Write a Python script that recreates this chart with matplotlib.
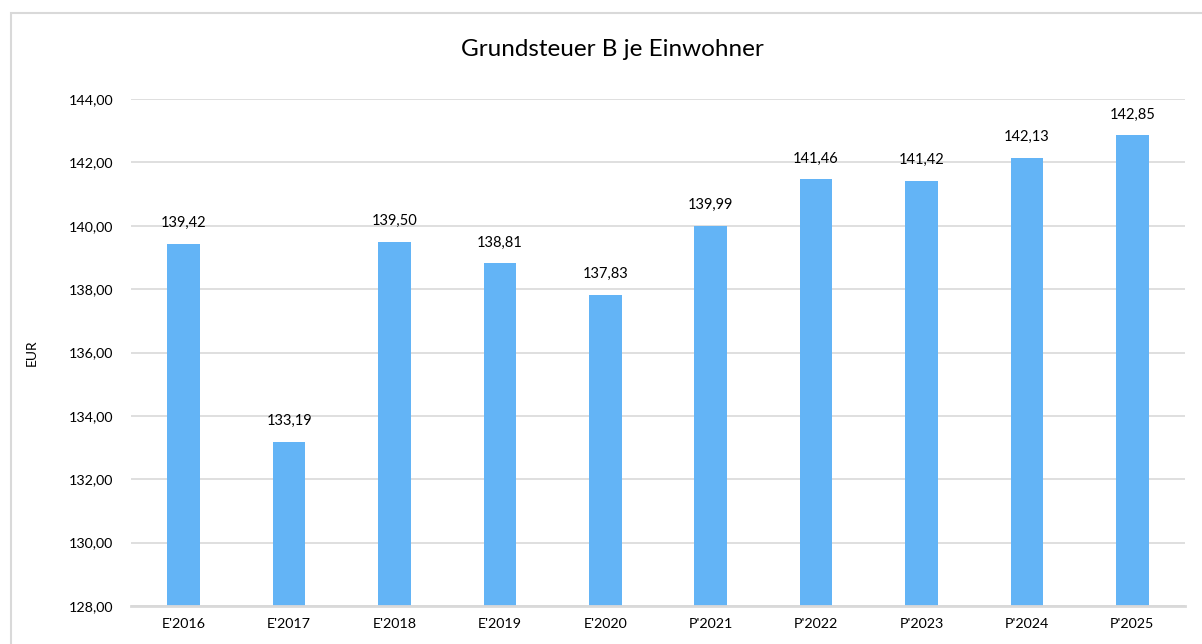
import matplotlib
matplotlib.use("Agg")
import matplotlib.pyplot as plt
from matplotlib.patches import Rectangle

plt.rcParams['font.family'] = ['Lato', 'DejaVu Sans']

categories = ["E'2016", "E'2017", "E'2018", "E'2019", "E'2020",
              "P'2021", "P'2022", "P'2023", "P'2024", "P'2025"]
values = [139.42, 133.19, 139.50, 138.81, 137.83,
          139.99, 141.46, 141.42, 142.13, 142.85]
yticks = [128, 130, 132, 134, 136, 138, 140, 142, 144]

W, H = 1202, 644
fig = plt.figure(figsize=(W / 100, H / 100), dpi=100)
fig.patch.set_facecolor('white')

# outer chart frame
fig.patches.append(Rectangle((11 / W, -0.1), 1.2, 1 - 13 / H + 0.1,
                             transform=fig.transFigure, fill=False,
                             edgecolor='#d9d9d9', linewidth=1.5))

left, right, top, bottom = 131, 1185, 99, 606
ax = fig.add_axes([left / W, 1 - bottom / H, (right - left) / W, (bottom - top) / H])

x = range(len(categories))
ax.bar(x, values, width=0.31, color='#63b4f6', zorder=3)
ax.set_ylim(128, 144)
ax.set_xlim(-0.5, len(categories) - 0.5)
ax.set_yticks(yticks)
ax.set_yticklabels([f"{v:.2f}".replace('.', ',') for v in yticks])
ax.set_xticks(list(x))
ax.set_xticklabels(categories)
ax.tick_params(axis='both', length=0, labelsize=10.3, colors='#000000')
ax.tick_params(axis='y', pad=13)
ax.tick_params(axis='x', pad=9)
ax.yaxis.grid(True, color='#d9d9d9', linewidth=1.2, zorder=0)
for s in ['top', 'right', 'left']:
    ax.spines[s].set_visible(False)
ax.spines['bottom'].set_color('#d9d9d9')
ax.spines['bottom'].set_linewidth(2)
ax.spines['bottom'].set_zorder(4)

for xi, v in zip(x, values):
    ax.annotate(f"{v:.2f}".replace('.', ','), (xi, v), xytext=(0, 10),
                textcoords='offset points', ha='center', va='bottom', fontsize=10.5)

ax.set_ylabel('EUR', fontsize=10, labelpad=22)
fig.text(612 / W, 1 - 50 / H, 'Grundsteuer B je Einwohner', ha='center', va='center',
         fontsize=17.5)

fig.savefig('out.png', dpi=100, facecolor='white')
